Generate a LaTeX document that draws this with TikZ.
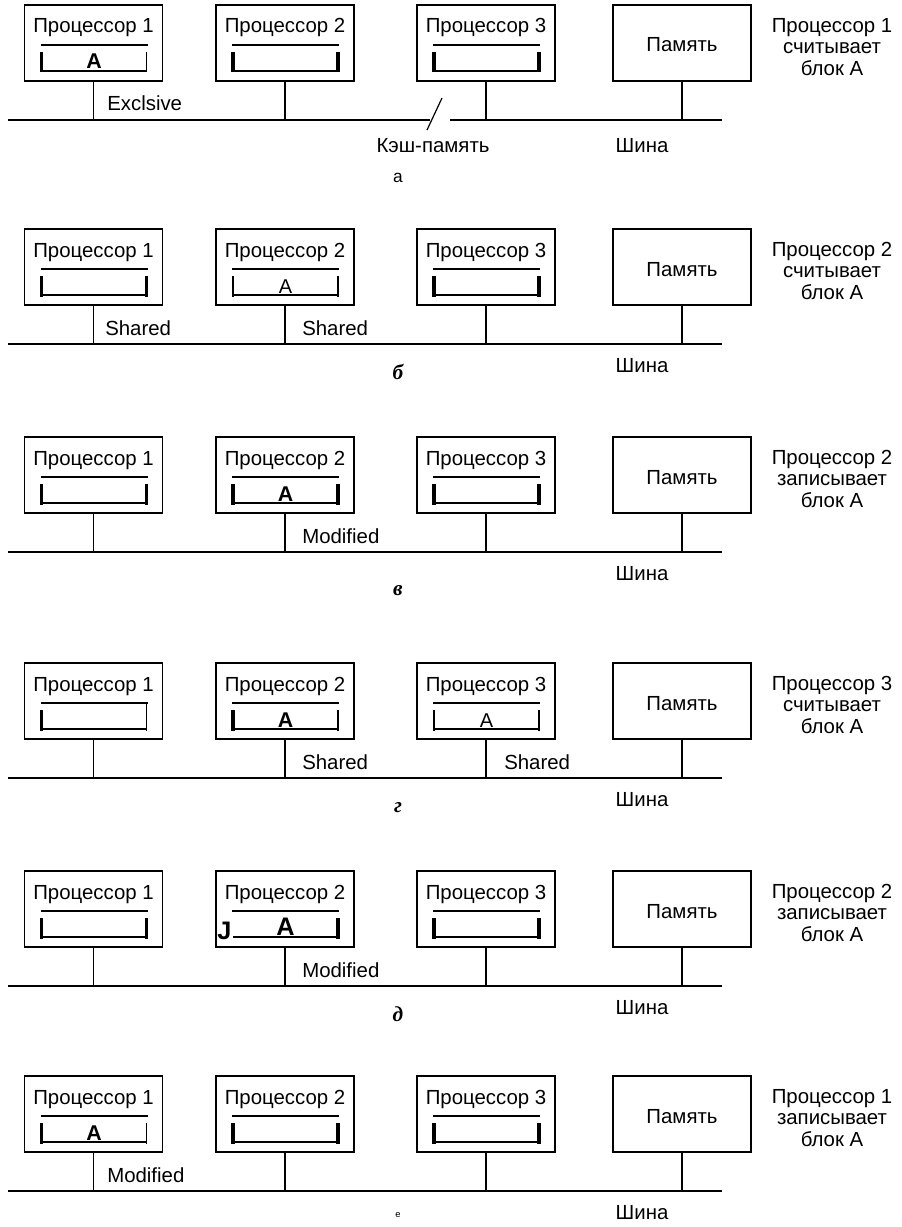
\documentclass[tikz,border=0pt]{standalone}
\usepackage{fontspec}
\setmainfont{Liberation Sans}
\newfontfamily\letterfont{Liberation Serif}
\usetikzlibrary{calc}
\tikzset{
 pbox/.style={draw, line width=1.1pt, minimum width=103.5pt, minimum height=57pt, inner sep=0pt, outer sep=0pt},
 ttl/.style={anchor=base, inner sep=0pt, font=\fontsize{15.3}{18}\selectfont},
 rlab/.style={anchor=north, align=center, inner sep=0pt, font=\fontsize{15.3}{16.1}\selectfont},
 stlab/.style={anchor=base west, inner sep=0pt, font=\fontsize{15.3}{18}\selectfont},
 buslabel/.style={anchor=base, inner sep=0pt, font=\fontsize{15.3}{18}\selectfont},
 panlab/.style={anchor=base, inner sep=0pt, font=\letterfont\fontsize{16}{18}\selectfont\bfseries\itshape},
 bus/.style={line width=1.6pt},
 stem/.style={line width=0.9pt},
 mstem/.style={line width=1.3pt},
 ctop/.style={line width=0.9pt},
 cbot/.style={line width=1.1pt},
 thickbar/.style={line width=2.4pt},
 thinbar/.style={line width=0.8pt},
 nobar/.style={draw=none},
 cletter/.style={anchor=base, inner sep=0pt},
}
\newcommand\bA{\fontsize{16}{18}\selectfont\bfseries A}
\newcommand\bbA{\fontsize{19}{21}\selectfont\bfseries A}
\newcommand\nA{\fontsize{15}{17}\selectfont A}
% #1 id, #2 top, #3 processor number, #4 verb
\newcommand\panelbase[4]{%
 \node[pbox] (pa#1) at (93.5,{#2+38}) {};
 \node[pbox] (pb#1) at (285,{#2+38}) {};
 \node[pbox] (pc#1) at (486,{#2+38}) {};
 \node[pbox] (pm#1) at (682,{#2+38}) {};
 \node[ttl] (ta#1) at (93.5,{#2+28}) {Процессор 1};
 \node[ttl] (tb#1) at (285,{#2+28}) {Процессор 2};
 \node[ttl] (tc#1) at (486,{#2+28}) {Процессор 3};
 \node[ttl] (tm#1) at (682,{#2+47}) {Память};
 \node[rlab] (rl#1) at (832,{#2+13}) {Процессор #3\\#4\\блок А};
 \coordinate (bl#1) at (8,{#2+115});
 \coordinate (br#1) at (722,{#2+115});
 \draw[stem] (pa#1.south) -- (pa#1.south |- bl#1);
 \draw[stem] (pb#1.south) -- (pb#1.south |- bl#1);
 \draw[stem] (pc#1.south) -- (pc#1.south |- bl#1);
 \draw[mstem] (pm#1.south) -- (pm#1.south |- bl#1);
}
% #1 box, #2 left bar style, #3 right bar style, #4 letter, #5 right bar top
\newcommand\cache[5]{%
 \begin{scope}[shift={(#1.north west)}]
  \draw[ctop] (16,40) -- (123,40);
  \draw[cbot] (17,66) -- (122,66);
  \draw[#2] (17,47) -- (17,67.5);
  \draw[#3] (122,#5) -- (122,67.5);
  \node[cletter] (#1x) at (69.5,64) {#4};
 \end{scope}}
\begin{document}
\begin{tikzpicture}[x=0.75pt,y=-0.75pt]
\useasboundingbox (0,0) rectangle (901,1227);
% ---------- panel a ----------
\panelbase{a}{5}{1}{считывает}
\cache{paa}{thickbar}{thinbar}{\bA}{47}
\cache{pba}{thickbar}{thickbar}{}{47}
\cache{pca}{thickbar}{thickbar}{}{47}
\coordinate (gla) at (430,120);
\coordinate (gra) at (450,120);
\draw[bus] (bla) -- (gla);
\draw[bus] (gra) -- (bra);
\node[stlab] (sa1) at (107,111) {Exclsive};
\node[buslabel] (kesh) at (433,152) {Кэш-память};
\coordinate (lsa) at (427,130);
\coordinate (lea) at (442,98);
\draw[line width=0.9pt] (lsa) -- (lea);
\node[buslabel] (sha) at (642,153) {Шина};
\node[anchor=base, inner sep=0pt, font=\fontsize{13}{15}\selectfont] (la) at (398,182) {а};
% ---------- panel b ----------
\panelbase{b}{229}{2}{считывает}
\cache{pab}{thickbar}{thickbar}{}{47}
\cache{pbb}{thinbar}{thinbar}{\nA}{47}
\cache{pcb}{thickbar}{thickbar}{}{47}
\draw[bus] (blb) -- (brb);
\node[stlab] (sb1) at (105,335) {Shared};
\node[stlab] (sb2) at (302,335) {Shared};
\node[buslabel] (shb) at (642,372) {Шина};
\node[panlab] (lb) at (398,379) {б};
% ---------- panel v ----------
\panelbase{c}{437}{2}{записывает}
\cache{pac}{thickbar}{thickbar}{}{47}
\cache{pbc}{thickbar}{thickbar}{\bA}{47}
\cache{pcc}{thickbar}{thickbar}{}{47}
\draw[bus] (blc) -- (brc);
\node[stlab] (sc1) at (302,543) {Modified};
\node[buslabel] (shc) at (642,580) {Шина};
\node[panlab] (lc) at (398,595) {в};
% ---------- panel g ----------
\panelbase{d}{663}{3}{считывает}
\cache{pad}{thickbar}{thinbar}{}{40}
\cache{pbd}{thickbar}{thinbar}{\bA}{47}
\cache{pcd}{thinbar}{thinbar}{\nA}{47}
\draw[bus] (bld) -- (brd);
\node[stlab] (sd1) at (302,769) {Shared};
\node[stlab] (sd2) at (504,769) {Shared};
\node[buslabel] (shd) at (642,806) {Шина};
\node[panlab] (ld) at (398,812) {г};
% ---------- panel d ----------
\panelbase{e}{871}{2}{записывает}
\cache{pae}{thickbar}{thickbar}{}{47}
\cache{pbe}{nobar}{thickbar}{\bbA}{47}
\node[cletter, font=\fontsize{19}{21}\selectfont\bfseries] (jbe) at ($(pbe.north west)+(8.5,68)$) {J};
\cache{pce}{thickbar}{thickbar}{}{47}
\draw[bus] (ble) -- (bre);
\node[stlab] (se1) at (302,977) {Modified};
\node[buslabel] (she) at (642,1014) {Шина};
\node[panlab] (le) at (398,1021) {д};
% ---------- panel e ----------
\panelbase{f}{1076}{1}{записывает}
\cache{paf}{thickbar}{thinbar}{\bA}{47}
\cache{pbf}{thickbar}{thickbar}{}{47}
\cache{pcf}{thickbar}{thickbar}{}{47}
\draw[bus] (blf) -- (brf);
\node[stlab] (sf1) at (107,1182) {Modified};
\node[buslabel] (shf) at (642,1219) {Шина};
\node[anchor=base, inner sep=0pt, font=\fontsize{7}{8}\selectfont] (lf) at (398,1217) {е};
\end{tikzpicture}
\end{document}
